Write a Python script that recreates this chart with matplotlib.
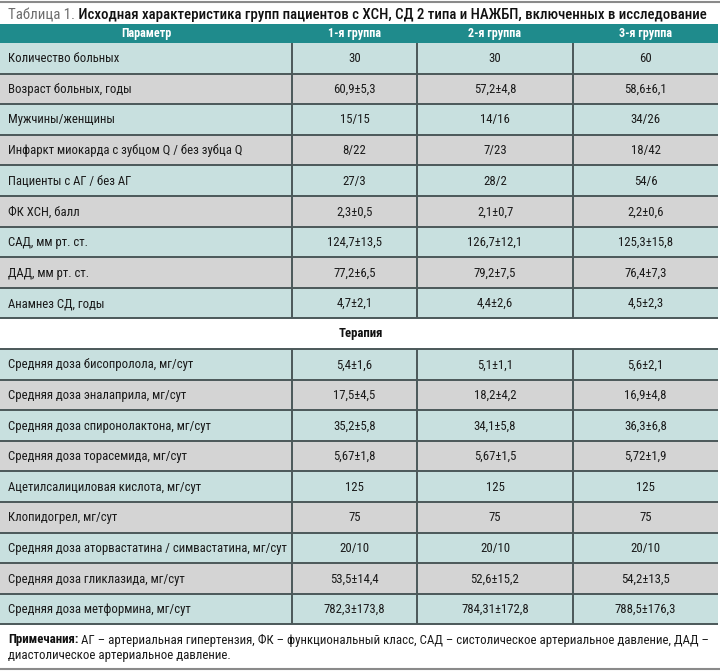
import matplotlib
matplotlib.use("Agg")
import matplotlib.pyplot as plt
from matplotlib.patches import Rectangle

plt.rcParams['font.family'] = ['Roboto Condensed', 'Liberation Sans Narrow', 'Roboto', 'DejaVu Sans']

title_prefix = "Таблица 1."
title_main = " Исходная характеристика групп пациентов с ХСН, СД 2 типа и НАЖБП, включенных в исследование"
columns = ["Параметр", "1-я группа", "2-я группа", "3-я группа"]

params_base = ["Количество больных", "Возраст больных, годы", "Мужчины/женщины",
               "Инфаркт миокарда с зубцом Q / без зубца Q", "Пациенты с АГ / без АГ",
               "ФК ХСН, балл", "САД, мм рт. ст.", "ДАД, мм рт. ст.", "Анамнез СД, годы"]
g1_base = ["30", "60,9±5,3", "15/15", "8/22", "27/3", "2,3±0,5", "124,7±13,5", "77,2±6,5", "4,7±2,1"]
g2_base = ["30", "57,2±4,8", "14/16", "7/23", "28/2", "2,1±0,7", "126,7±12,1", "79,2±7,5", "4,4±2,6"]
g3_base = ["60", "58,6±6,1", "34/26", "18/42", "54/6", "2,2±0,6", "125,3±15,8", "76,4±7,3", "4,5±2,3"]

section = "Терапия"
params_ther = ["Средняя доза бисопролола, мг/сут", "Средняя доза эналаприла, мг/сут",
               "Средняя доза спиронолактона, мг/сут", "Средняя доза торасемида, мг/сут",
               "Ацетилсалициловая кислота, мг/сут", "Клопидогрел, мг/сут",
               "Средняя доза аторвастатина / симвастатина, мг/сут",
               "Средняя доза гликлазида, мг/сут", "Средняя доза метформина, мг/сут"]
g1_ther = ["5,4±1,6", "17,5±4,5", "35,2±5,8", "5,67±1,8", "125", "75", "20/10", "53,5±14,4", "782,3±173,8"]
g2_ther = ["5,1±1,1", "18,2±4,2", "34,1±5,8", "5,67±1,5", "125", "75", "20/10", "52,6±15,2", "784,31±172,8"]
g3_ther = ["5,6±2,1", "16,9±4,8", "36,3±6,8", "5,72±1,9", "125", "75", "20/10", "54,2±13,5", "788,5±176,3"]

note_bold = "Примечания:"
note_line1 = " АГ – артериальная гипертензия, ФК – функциональный класс, САД – систолическое артериальное давление, ДАД –"
note_line2 = "диастолическое артериальное давление."

W, H = 720, 672
fig = plt.figure(figsize=(7.2, 6.72), dpi=100)
ax = fig.add_axes([0, 0, 1, 1])
ax.set_xlim(0, W)
ax.set_ylim(H, 0)
ax.axis('off')

teal = "#1f8b8c"
row_teal = "#c8e0df"
row_gray = "#d4d4d4"
line_c = "#4b5859"
col_x = [0, 292, 417, 573, 718]
row_h = 30.6
head_top, head_bot = 24, 43

renderer = fig.canvas.get_renderer()

def text_width(t):
    return t.get_window_extent(renderer=renderer).width

def fit_pair(x, y, a, b, target_right, base, kw_a, kw_b):
    # two texts side by side, sized so the pair ends at target_right
    ta = ax.text(x, y, a, fontsize=base, va='center', **kw_a)
    tb = ax.text(x, y, b, fontsize=base, va='center', **kw_b)
    total = text_width(ta) + text_width(tb)
    size = base * (target_right - x) / total
    ta.set_fontsize(size)
    tb.set_fontsize(size)
    tb.set_x(x + text_width(ta))
    return size

# row font size: longest label ends near x=289
probe = ax.text(8, 0, params_ther[6], fontsize=10)
fs = min(10 * 281 / text_width(probe), 9.6)
probe.remove()

# top and bottom rules
ax.plot([0, W], [2, 2], color="#8a8a8a", lw=1.5)
ax.plot([0, W], [669, 669], color="#8a8a8a", lw=1.5)

# title
fit_pair(8, 15, title_prefix, title_main, 712, 10.5,
         dict(color="#6d6d6d"), dict(color="#111111", fontweight='medium'))

# header
ax.add_patch(Rectangle((0, head_top), col_x[-1], head_bot - head_top, color=teal, lw=0))
for i, c in enumerate(columns):
    ax.text((col_x[i] + col_x[i + 1]) / 2, (head_top + head_bot) / 2 + 0.5, c,
            fontsize=fs * 0.95, color="white", fontweight='bold', ha='center', va='center')

def draw_block(y0, params, g1, g2, g3):
    for r, p in enumerate(params):
        y = y0 + r * row_h
        fc = row_teal if r % 2 == 0 else row_gray
        ax.add_patch(Rectangle((0, y), col_x[-1], row_h, color=fc, lw=0))
        ax.text(8, y + row_h / 2 + 0.5, p, fontsize=fs, color="#1a1a1a", va='center')
        for j, v in enumerate([g1[r], g2[r], g3[r]]):
            ax.text((col_x[j + 1] + col_x[j + 2]) / 2, y + row_h / 2 + 0.5, v,
                    fontsize=fs, color="#1a1a1a", ha='center', va='center')
    y_end = y0 + len(params) * row_h
    for r in range(len(params) + 1):
        y = y0 + r * row_h
        if r == 0 and y0 == head_bot:
            continue
        ax.plot([0, col_x[-1]], [y, y], color=line_c, lw=1.4, solid_capstyle='butt')
    for x in col_x[1:-1]:
        ax.plot([x, x], [y0, y_end], color=line_c, lw=1.4, solid_capstyle='butt')
    return y_end

y_mid = draw_block(head_bot, params_base, g1_base, g2_base, g3_base)
ax.text(361, y_mid + row_h / 2, section, fontsize=fs, color="#111111",
        fontweight='bold', ha='center', va='center')
draw_block(y_mid + row_h, params_ther, g1_ther, g2_ther, g3_ther)

# notes
ns = fit_pair(8, 640, note_bold, note_line1, 712, 9.0,
              dict(color="#111111", fontweight='bold'), dict(color="#1a1a1a"))
ax.text(8, 656, note_line2, fontsize=ns, color="#1a1a1a", va='center')

fig.savefig("out.png", dpi=100)
